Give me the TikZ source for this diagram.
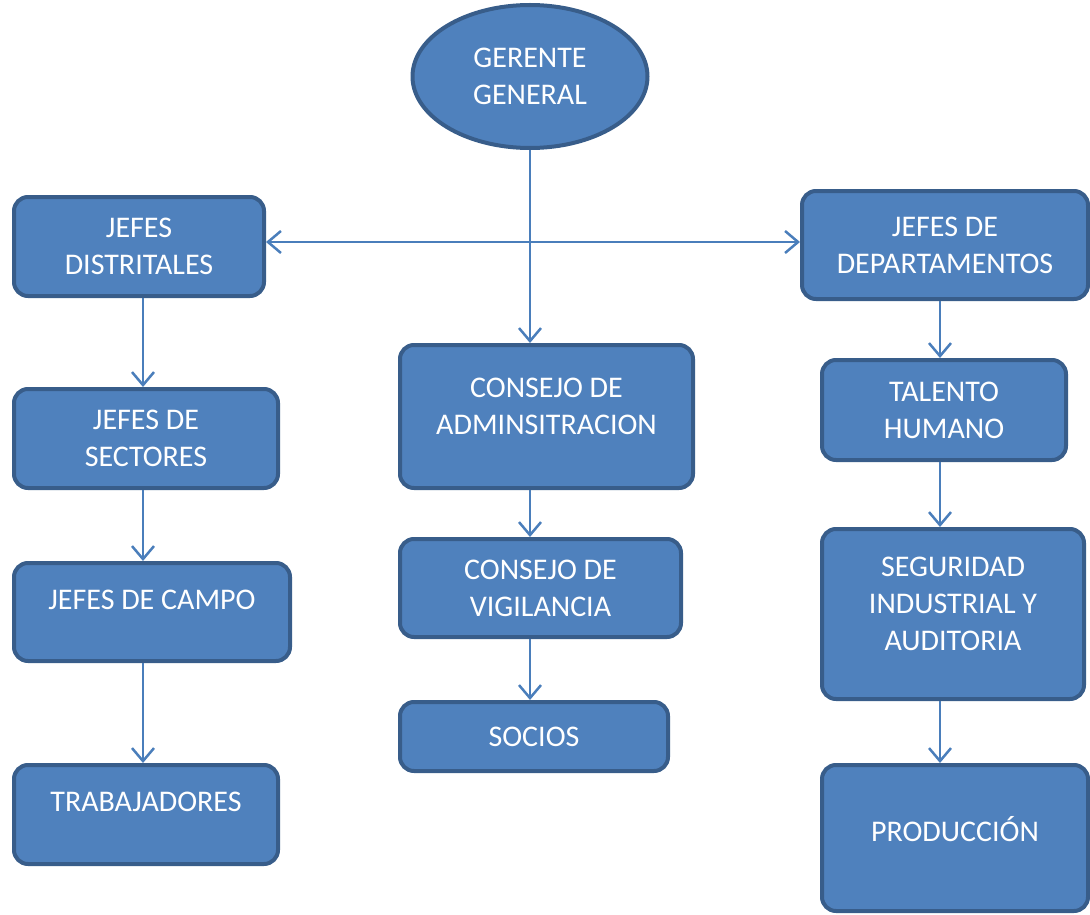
\documentclass[tikz,border=0pt]{standalone}
\usepackage{fontspec}
\setmainfont{Carlito}
\usetikzlibrary{shapes.geometric, arrows.meta}
\definecolor{cajaazul}{HTML}{4F81BD}
\definecolor{bordeazul}{HTML}{385D8A}
\definecolor{flechaazul}{HTML}{4A7EBB}
% sube el texto dentro de la caja
\newcommand{\subir}[1]{\rule[-#1]{0pt}{#1}}

\begin{document}
\begin{tikzpicture}[x=1pt, y=-1pt,
    caja/.style={draw=bordeazul, line width=4pt, fill=cajaazul, text=white,
      rounded corners=14pt, align=center, inner sep=0pt,
      font=\fontsize{30}{37}\selectfont},
    elipse/.style={caja, ellipse, rounded corners=0pt},
    punta/.tip={Straight Barb[length=13pt, width=22pt, line width=2.5pt]},
    flecha/.style={draw=flechaazul, line width=2.5pt, -punta}]
  \useasboundingbox (0,0) rectangle (1090,915);

  \coordinate (izq) at (143,0);
  \coordinate (cen) at (530,0);
  \coordinate (der) at (940,0);

  \node[elipse, minimum width=235pt, minimum height=143pt] (ger) at (530,76.5) {GERENTE\\GENERAL};

  % columna izquierda
  \node[caja, minimum width=250pt, minimum height=99pt] (dis) at (139,246.5) {JEFES\\DISTRITALES};
  \node[caja, minimum width=264pt, minimum height=99pt] (sec) at (146,438.5) {JEFES DE\\SECTORES};
  \node[caja, minimum width=276pt, minimum height=98pt] (cam) at (152,612) {JEFES DE CAMPO\subir{24pt}};
  \node[caja, minimum width=264pt, minimum height=99pt] (tra) at (146,814.5) {TRABAJADORES\subir{26pt}};

  % columna central
  \node[caja, minimum width=293pt, minimum height=143pt] (adm) at (546.5,416.5) {CONSEJO DE\\ADMINSITRACION\subir{20pt}};
  \node[caja, minimum width=281pt, minimum height=98pt] (vig) at (540.5,588) {CONSEJO DE\\VIGILANCIA};
  \node[caja, minimum width=268pt, minimum height=69pt] (soc) at (534,736.5) {SOCIOS};

  % columna derecha
  \node[caja, minimum width=286pt, minimum height=108pt] (dep) at (945,245) {JEFES DE\\DEPARTAMENTOS};
  \node[caja, minimum width=244pt, minimum height=100pt] (tal) at (944,410) {TALENTO\\HUMANO};
  \node[caja, minimum width=262pt, minimum height=170pt] (seg) at (953,614) {SEGURIDAD\\INDUSTRIAL Y\\AUDITORIA\subir{20pt}};
  \node[caja, minimum width=266pt, minimum height=146pt] (pro) at (955,838) {PRODUCCIÓN\subir{18pt}};

  % conectores
  \draw[flecha, punta-punta] ([yshift=4.5pt]dis.east) -- ([yshift=4.5pt]dis.east -| dep.west);
  \draw[flecha] (ger.south) -- (adm.north -| cen);
  \draw[flecha] (dis.south -| izq) -- (sec.north -| izq);
  \draw[flecha] (sec.south -| izq) -- (cam.north -| izq);
  \draw[flecha] (cam.south -| izq) -- (tra.north -| izq);
  \draw[flecha] (adm.south -| cen) -- (vig.north -| cen);
  \draw[flecha] (vig.south -| cen) -- (soc.north -| cen);
  \draw[flecha] (dep.south -| der) -- (tal.north -| der);
  \draw[flecha] (tal.south -| der) -- (seg.north -| der);
  \draw[flecha] (seg.south -| der) -- (pro.north -| der);
\end{tikzpicture}
\end{document}
